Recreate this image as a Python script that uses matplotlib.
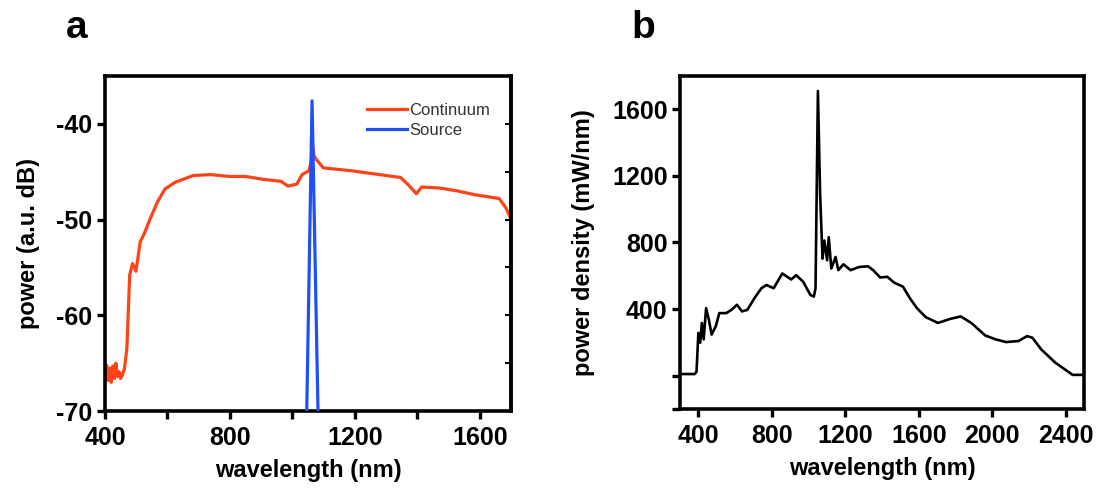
import numpy as np
import matplotlib
matplotlib.use("Agg")
from matplotlib import pyplot as plt

plt.rcParams['font.family'] = ['Liberation Sans', 'DejaVu Sans']
plt.rcParams['axes.unicode_minus'] = False

# panel a: supercontinuum spectrum (dB)
cont_wl = [400, 405, 410, 415, 420, 425, 430, 435, 440, 445, 450, 455, 462, 470, 479, 488, 499,
           513, 524, 546, 569, 592, 625, 682, 738, 800, 851, 907, 963, 986, 1014, 1031,
           1053, 1060, 1064, 1069, 1076, 1099, 1189, 1301, 1346, 1369, 1397, 1414, 1470,
           1527, 1583, 1662, 1684, 1698]
cont_db = [-66.5, -65.2, -66.8, -65.5, -67.0, -65.3, -66.6, -65.0, -66.4, -65.9, -66.6, -66.3, -65.6,
           -63.5, -55.8, -54.6, -55.4, -52.3, -51.6, -49.8, -48.1, -46.8, -46.1, -45.4, -45.3,
           -45.5, -45.5, -45.8, -46.0, -46.5, -46.3, -45.3, -44.9, -44.0, -42.0, -43.3, -43.7,
           -44.6, -44.9, -45.4, -45.6, -46.3, -47.3, -46.6, -46.7, -47.0, -47.4, -47.8, -48.8, -49.8]

src_wl = [1046, 1063, 1082]
src_db = [-70, -37.6, -70]

# panel b: power density (mW/nm)
pd_wl = [300, 380, 390, 400, 410, 419, 429, 442, 457, 472, 495, 514, 552, 581, 610, 638, 667,
         705, 743, 771, 810, 857, 905, 933, 971, 1010, 1029, 1038, 1051, 1063, 1076, 1086,
         1101, 1110, 1124, 1147, 1162, 1190, 1229, 1276, 1324, 1352, 1390, 1429, 1467, 1514,
         1552, 1590, 1638, 1705, 1771, 1829, 1886, 1962, 2019, 2076, 2143, 2190, 2219, 2267,
         2343, 2438, 2500]
pd_val = [10, 10, 24, 257, 198, 317, 218, 406, 337, 247, 297, 376, 376, 396, 426, 386, 396,
          465, 525, 545, 525, 614, 578, 604, 564, 485, 475, 525, 1710, 1089, 703, 812,
          693, 832, 644, 713, 634, 669, 634, 653, 657, 634, 590, 594, 558, 535,
          465, 406, 352, 317, 341, 356, 317, 242, 218, 202, 208, 238, 228, 158,
          79, 5, 5]

fig = plt.figure(figsize=(11, 4.94), dpi=100)
ax1 = fig.add_axes([105/1100, 1-411/494, 406/1100, 335/494])
ax2 = fig.add_axes([680/1100, 1-409/494, 404/1100, 333/494])

fs = 17
tfs = 18
for ax in (ax1, ax2):
    for s in ax.spines.values():
        s.set_linewidth(2.6)
    ax.tick_params(axis='both', which='major', direction='out', length=6, width=2.4,
                   labelsize=tfs, pad=3)
    ax.tick_params(axis='x', pad=5)

# ---- a
ax1.plot(cont_wl, cont_db, color='#ff4218', lw=2.3, label='Continuum', zorder=2)
ax1.plot(src_wl, src_db, color='#1f4ff5', lw=2.3, label='Source', zorder=3)
ax1.set_xlim(400, 1700)
ax1.set_ylim(-70, -35)
ax1.set_xticks(np.arange(400, 1700, 200))
ax1.set_xticklabels(['400', '', '800', '', '1200', '', '1600'], fontweight='bold')
ax1.set_yticks([-70, -60, -50, -40])
ax1.set_yticklabels(['-70', '-60', '-50', '-40'], fontweight='bold')
ax1r = ax1.secondary_yaxis('right')
ax1r.set_yticks(np.arange(-65, -36, 5))
ax1r.tick_params(direction='in', length=4, width=1.5, labelright=False)
ax1r.spines['right'].set_linewidth(2.6)
ax1.set_xlabel('wavelength (nm)', fontsize=fs, fontweight='bold', labelpad=6)
ax1.set_ylabel('power (a.u. dB)', fontsize=fs, fontweight='bold', labelpad=12)
leg = ax1.legend(loc='upper left', bbox_to_anchor=(0.645, 0.92), frameon=False,
                 fontsize=12, handlelength=2.4, handletextpad=0.15, labelspacing=0.3,
                 borderpad=0, borderaxespad=0)
for t in leg.get_texts():
    t.set_color('#333333')

# ---- b
ax2.plot(pd_wl, pd_val, color='black', lw=1.9)
ax2.set_xlim(300, 2500)
ax2.set_ylim(-200, 1800)
ax2.set_xticks(np.arange(400, 2401, 400))
ax2.set_xticklabels([str(v) for v in range(400, 2401, 400)], fontweight='bold')
ax2.set_yticks([-200, 0, 400, 800, 1200, 1600])
ax2.set_yticklabels(['', '', '400', '800', '1200', '1600'], fontweight='bold')
ax2.set_xlabel('wavelength (nm)', fontsize=fs, fontweight='bold', labelpad=6)
ax2.set_ylabel('power density (mW/nm)', fontsize=fs, fontweight='bold', labelpad=12)

fig.text(77/1100, 1-28/494, 'a', fontsize=28, fontweight='bold', ha='center', va='center')
fig.text(643/1100, 1-28/494, 'b', fontsize=28, fontweight='bold', ha='center', va='center')

fig.savefig('out.png', dpi=100)
